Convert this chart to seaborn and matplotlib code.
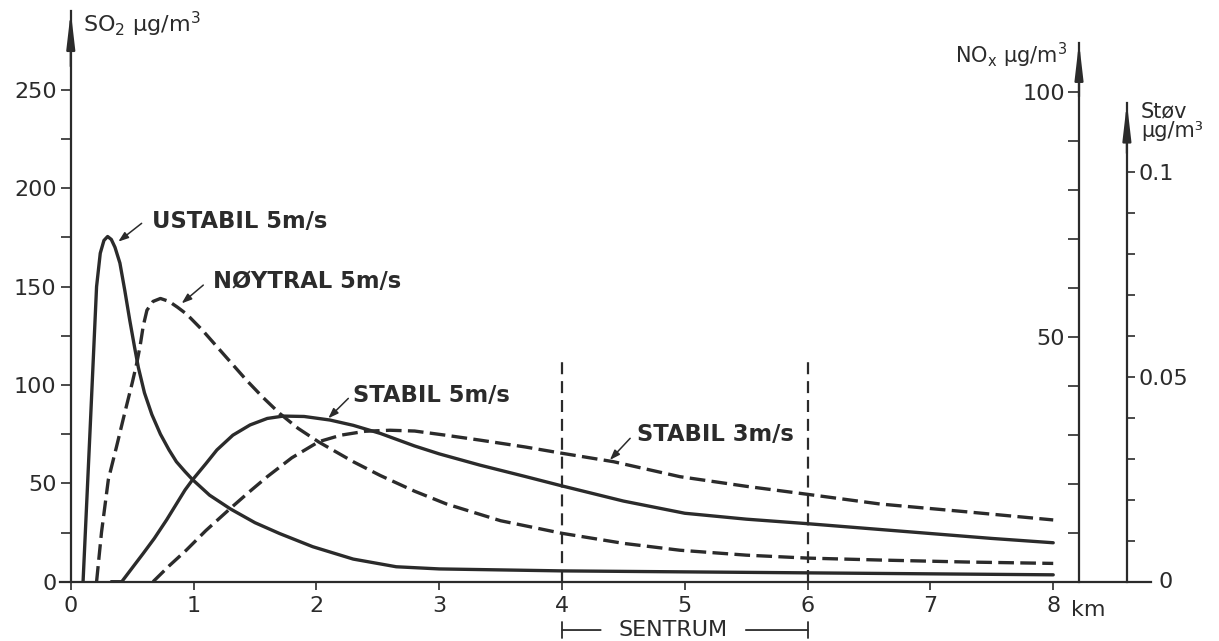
import matplotlib.pyplot as plt
from matplotlib.ticker import FixedLocator
import pandas as pd
import seaborn as sns

# SO2 ground level concentration (ug/m3) against distance from the stack (km),
# values
ustabil_km = [0.10, 0.157, 0.21, 0.24, 0.27, 0.30, 0.33, 0.36, 0.40, 0.44, 0.48, 0.52,
              0.55, 0.60, 0.66, 0.73, 0.80, 0.86, 0.93, 0.99, 1.13, 1.30, 1.50, 1.70,
              1.97, 2.30, 2.65, 3.0, 4.0, 5.0, 6.0, 7.0, 8.0]
ustabil_so2 = [0, 77, 150, 167, 173.5, 175.5, 174, 170, 162, 148, 133, 119,
               109, 96, 85, 75, 67, 61, 56, 52, 44, 37, 30, 24.5,
               17.8, 11.5, 7.6, 6.5, 5.5, 5, 4.5, 4, 3.5]

noytral_km = [0.21, 0.25, 0.306, 0.37, 0.44, 0.50, 0.537, 0.565, 0.59, 0.62, 0.67, 0.73,
              0.80, 0.87, 0.944, 1.07, 1.19, 1.31, 1.43, 1.56, 1.70, 1.85, 2.02, 2.3,
              2.52, 2.8, 3.06, 3.5, 4.0, 4.5, 4.96, 5.5, 6.0, 6.6, 7.3, 8.0]
noytral_so2 = [0, 25, 52, 68, 86, 101, 111, 120, 130, 138, 142.5, 144,
               142.5, 139.5, 136, 128, 119.5, 111, 102.5, 94, 85.6, 78, 71, 61,
               54, 46, 39.5, 31, 24.6, 19.5, 16, 13.5, 12, 11, 10, 9.3]

stabil5_km = [0.33, 0.415, 0.50, 0.59, 0.68, 0.78, 0.93, 0.99, 1.10, 1.19, 1.32, 1.46,
              1.60, 1.73, 1.90, 2.11, 2.30, 2.52, 2.80, 3.0, 3.33, 3.7, 4.0, 4.5,
              5.0, 5.5, 6.0, 6.5, 7.0, 7.5, 8.0]
stabil5_so2 = [0, 0, 7, 14.4, 22, 31.4, 46.6, 51.7, 60, 67, 74.5, 79.7,
               83, 84.2, 84, 82.2, 79.5, 75.4, 69, 65, 59.3, 53.5, 48.7, 41,
               34.8, 31.8, 29.5, 27, 24.5, 22, 19.8]

stabil3_km = [0.67, 0.80, 0.94, 1.10, 1.30, 1.45, 1.60, 1.80, 2.02, 2.2, 2.4, 2.6,
              2.8, 3.05, 3.33, 3.7, 4.0, 4.42, 4.96, 5.5, 5.99, 6.59, 7.3, 8.0]
stabil3_so2 = [0, 8, 16, 26, 37.3, 45.5, 53.4, 63, 71.2, 74.5, 76.5, 77,
               76.6, 74.5, 72, 68.5, 65.3, 61, 53.4, 48.5, 44.5, 39.5, 35.5, 31.4]

curve_names = ['USTABIL 5m/s', 'NØYTRAL 5m/s', 'STABIL 5m/s', 'STABIL 3m/s']

km_ticks = [0, 1, 2, 3, 4, 5, 6, 7, 8]
km_labels = ['0', '1', '2', '3', '4', '5', '6', '7', '8']
so2_major = [0, 50, 100, 150, 200, 250]
so2_minor = [25, 75, 125, 175, 225]
nox_major = [50, 100]
nox_minor = [10, 20, 30, 40, 60, 70, 80, 90]
stov_major = [0.05, 0.1]
stov_labels = ['0.05', '0.1']
stov_minor = [0.01, 0.02, 0.03, 0.04, 0.06, 0.07, 0.08, 0.09]

# city centre stretch
sentrum_km = [4, 6]
sentrum_top = [114, 114]

INK = '#2b2b2b'

frames = []
for name, km, so2 in zip(curve_names,
                         [ustabil_km, noytral_km, stabil5_km, stabil3_km],
                         [ustabil_so2, noytral_so2, stabil5_so2, stabil3_so2]):
    frames.append(pd.DataFrame({'km': km, 'so2': so2, 'case': name}))
df = pd.concat(frames, ignore_index=True)

sns.set_theme(style='ticks', rc={
    'axes.edgecolor': INK,
    'axes.linewidth': 1.6,
    'xtick.color': INK,
    'ytick.color': INK,
    'xtick.major.size': 6,
    'xtick.major.width': 1.2,
    'ytick.major.size': 7.2,
    'ytick.minor.size': 7.2,
    'ytick.major.width': 1.2,
    'ytick.minor.width': 1.2,
    'xtick.labelsize': 16,
    'ytick.labelsize': 16,
    'text.color': INK,
})
plt.rcParams['font.family'] = ['DejaVu Sans']

fig = plt.figure(figsize=(12.19, 6.41), dpi=100)
ax = fig.add_axes([0.049, 0.0925, 0.8956, 0.8899])

sns.lineplot(data=df, x='km', y='so2', style='case',
             dashes={'USTABIL 5m/s': '', 'NØYTRAL 5m/s': (4.7, 1.9),
                     'STABIL 5m/s': '', 'STABIL 3m/s': (4.7, 1.9)},
             color=INK, lw=2.4, estimator=None, sort=False, legend=False, ax=ax)

ax.set_xlim(-0.09, 8.8)
ax.set_ylim(0, 290)
ax.set_xlabel('')
ax.set_ylabel('')
ax.spines['left'].set_position(('data', 0))
ax.spines[['top', 'right']].set_visible(False)
ax.set_xticks(km_ticks, km_labels)
ax.set_yticks(so2_major)
ax.yaxis.set_minor_locator(FixedLocator(so2_minor))
ax.tick_params(axis='y', which='both', pad=3)
ax.tick_params(axis='x', pad=4)

axis_arrow = dict(arrowstyle='-|>,head_length=1.08,head_width=0.125', color=INK,
                  lw=1.6, mutation_scale=20, shrinkA=0, shrinkB=0)
ax.annotate('', xy=(0, 290), xytext=(0, 262), arrowprops=axis_arrow, annotation_clip=False)

# NOx scale
ax2 = ax.twinx()
ax2.set_ylim(0, 570.4 / 4.9)
ax2.spines[['right', 'top', 'bottom']].set_visible(False)
ax2.spines['left'].set_visible(True)
ax2.spines['left'].set_position(('data', 8.21))
ax2.spines['left'].set_bounds(0, 110)
ax2.yaxis.set_ticks_position('left')
ax2.set_yticks(nox_major)
ax2.yaxis.set_minor_locator(FixedLocator(nox_minor))
ax2.tick_params(axis='y', which='both', length=8, pad=2)
ax2.annotate('', xy=(8.21, 110.1), xytext=(8.21, 99), arrowprops=axis_arrow, annotation_clip=False)

# dust scale
ax3 = ax.twinx()
ax3.set_ylim(0, 570.4 / 4100)
ax3.spines[['left', 'top', 'bottom']].set_visible(False)
ax3.spines['right'].set_position(('data', 8.60))
ax3.spines['right'].set_bounds(0, 0.1168)
ax3.set_yticks(stov_major, stov_labels)
ax3.yaxis.set_minor_locator(FixedLocator(stov_minor))
ax3.tick_params(axis='y', which='both', length=5.5, pad=3)
ax3.annotate('', xy=(8.60, 0.1168), xytext=(8.60, 0.1045), arrowprops=axis_arrow,
             annotation_clip=False)
ax.text(8.86, 0, '0', ha='left', va='center', fontsize=16)

# axis titles
fig.text(83 / 1219, 1 - 24 / 641, 'SO$_2$ µg/m$^3$', ha='left', va='center', fontsize=16)
fig.text(1067 / 1219, 1 - 55 / 641, 'NO$_\\mathrm{x}$ µg/m$^3$', ha='right', va='center',
         fontsize=15)
fig.text(1141 / 1219, 1 - 121 / 641, 'Støv\nµg/m³', ha='left', va='center', fontsize=15,
         linespacing=1.0)
ax.text(8.145, -0.05, 'km', transform=ax.get_xaxis_transform(), ha='left', va='center',
        fontsize=16)

# curve labels with leaders
leader = dict(arrowstyle='-|>,head_length=0.5,head_width=0.18', color=INK, lw=1.1,
              mutation_scale=12, shrinkA=0, shrinkB=0)
label_kw = dict(ha='left', va='center', fontsize=16.3, fontweight='bold')
ax.text(0.661, 182.9, curve_names[0], **label_kw)
ax.annotate('', xy=(0.387, 172.9), xytext=(0.577, 182.2), arrowprops=leader)
ax.text(1.16, 152.4, curve_names[1], **label_kw)
ax.annotate('', xy=(0.903, 141.5), xytext=(1.079, 150.8), arrowprops=leader)
ax.text(2.30, 94.9, curve_names[2], **label_kw)
ax.annotate('', xy=(2.097, 83.1), xytext=(2.26, 93.2), arrowprops=leader)
ax.text(4.61, 74.6, curve_names[3], **label_kw)
ax.annotate('', xy=(4.39, 61.9), xytext=(4.555, 72.9), arrowprops=leader)

# city centre markers
ax.vlines(sentrum_km, 0, sentrum_top, colors=INK, lw=1.6, linestyles=(0, (5.4, 3.1)))
bracket_y = -0.0847
xt = ax.get_xaxis_transform()
ax.annotate('', xy=(4.315, bracket_y), xytext=(sentrum_km[0], bracket_y), xycoords=xt,
            arrowprops=dict(arrowstyle='|-|,widthA=0.3,widthB=0', color=INK, lw=1.3,
                            mutation_scale=20, shrinkA=0, shrinkB=0),
            annotation_clip=False)
ax.annotate('', xy=(sentrum_km[1], bracket_y), xytext=(5.497, bracket_y), xycoords=xt,
            arrowprops=dict(arrowstyle='|-|,widthA=0,widthB=0.3', color=INK, lw=1.3,
                            mutation_scale=20, shrinkA=0, shrinkB=0),
            annotation_clip=False)
ax.text(4.906, bracket_y, 'SENTRUM', transform=xt, ha='center', va='center', fontsize=16)

fig.savefig('out.png', dpi=100)
